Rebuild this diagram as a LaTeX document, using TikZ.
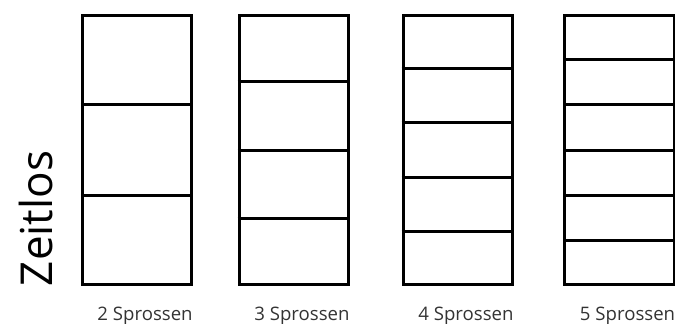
\documentclass[tikz,border=0pt]{standalone}
\usepackage{fontspec}
\setmainfont{Open Sans}
\usepackage{tikz}
\usetikzlibrary{positioning,calc}
\definecolor{LabelGray}{RGB}{51,51,51}

\begin{document}
\begin{tikzpicture}[
    x=1pt, y=-1pt,
    pane/.style={draw=black, line width=3pt, minimum width=109.5pt,
      minimum height=269.6pt, inner sep=0pt, anchor=north west},
    sprosse/.style={line width=3pt},
    caption/.style={text=LabelGray, font=\fontsize{18.6}{20}\selectfont,
      inner sep=0pt, anchor=base east}
  ]
  \useasboundingbox (0,0) rectangle (675,324);

  % the four window panes
  \node[pane] (w2) at (80.8,13.7) {};
  \node[pane] (w3) at (237.7,13.7) {};
  \node[pane] (w4) at (401.7,13.7) {};
  \node[pane] (w5) at (563.3,13.7) {};

  % bars: n Sprossen give n+1 equal fields
  \foreach \n in {2,3,4,5} {
    \pgfmathtruncatemacro{\fields}{\n+1}
    \foreach \i in {1,...,\n} {
      \draw[sprosse]
        ($(w\n.north west)!{\i/\fields}!(w\n.south west)$) --
        ($(w\n.north east)!{\i/\fields}!(w\n.south east)$);
    }
    \node[caption] (c\n) at ([xshift=-0.5pt,yshift=-33.7pt]w\n.south east)
      {\n\ Sprossen};
  }

  \node[rotate=90, anchor=base west, inner sep=0pt,
    font=\fontsize{44}{44}\selectfont] (title)
    at ([xshift=-28pt]w2.south west) {Zeitlos};
\end{tikzpicture}
\end{document}
